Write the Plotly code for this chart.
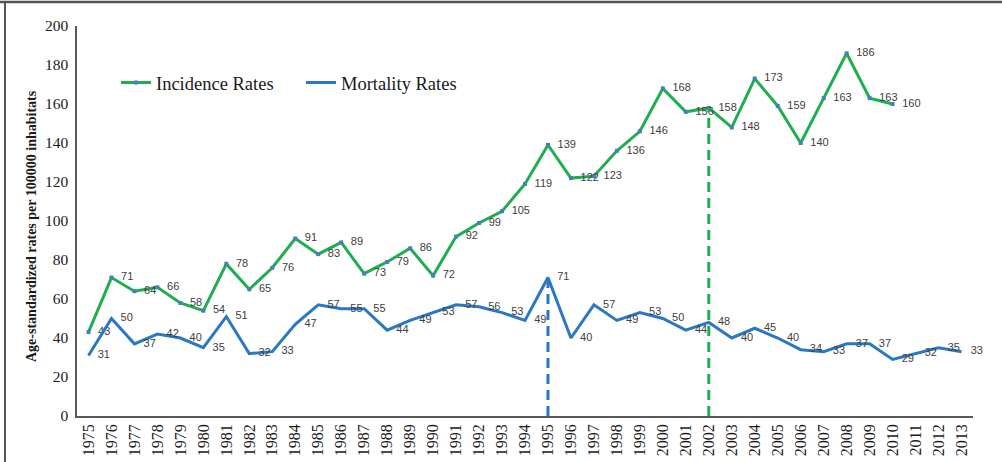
import plotly.graph_objects as go

years = [str(y) for y in range(1975, 2014)]
incidence_years = [str(y) for y in range(1975, 2011)]
incidence = [43, 71, 64, 66, 58, 54, 78, 65, 76, 91, 83, 89, 73, 79, 86, 72, 92, 99,
             105, 119, 139, 122, 123, 136, 146, 168, 156, 158, 148, 173, 159, 140, 163,
             186, 163, 160]
mortality = [31, 50, 37, 42, 40, 35, 51, 32, 33, 47, 57, 55, 55, 44, 49, 53, 57, 56,
             53, 49, 71, 40, 57, 49, 53, 50, 44, 48, 40, 45, 40, 34, 33, 37, 37, 29,
             32, 35, 33]
y_ticks = [0, 20, 40, 60, 80, 100, 120, 140, 160, 180, 200]
mortality_peak_year = "1995"
incidence_peak_year = "2002"

GREEN = "#1fae4e"
BLUE = "#2a78c4"
LABEL_FONT = dict(family="Liberation Sans", size=11, color="#404040")

fig = go.Figure()

fig.add_trace(go.Scatter(
    x=incidence_years, y=incidence, name="Incidence Rates",
    mode="lines+markers+text",
    line=dict(color=GREEN, width=3),
    marker=dict(color="#4a7ebb", size=4, symbol="square"),
    text=["  " + str(v) for v in incidence], textposition="middle right",
    textfont=LABEL_FONT, cliponaxis=False,
))
fig.add_trace(go.Scatter(
    x=years, y=mortality, name="Mortality Rates",
    mode="lines+text",
    line=dict(color=BLUE, width=3),
    text=["   " + str(v) for v in mortality], textposition="middle right",
    textfont=LABEL_FONT, cliponaxis=False,
))

# vertical dashed markers, derived from the data
mi = years.index(mortality_peak_year)
fig.add_trace(go.Scatter(
    x=[mortality_peak_year, mortality_peak_year], y=[0, mortality[mi]],
    mode="lines", line=dict(color=BLUE, width=3, dash="10px,6px"),
    showlegend=False, hoverinfo="skip",
))
ii = incidence_years.index(incidence_peak_year)
fig.add_trace(go.Scatter(
    x=[incidence_peak_year, incidence_peak_year], y=[0, incidence[ii]],
    mode="lines", line=dict(color=GREEN, width=3, dash="10px,6px"),
    showlegend=False, hoverinfo="skip",
))

W, H = 1002, 462
L, R, T, B = 77, 29, 26, 46
pw, ph = W - L - R, H - T - B

def px_x(p):
    return (p - L) / pw

def px_y(p):
    return (H - B - p) / ph

fig.update_layout(
    width=W, height=H,
    margin=dict(l=L, r=R, t=T, b=B, autoexpand=False),
    plot_bgcolor="white", paper_bgcolor="white",
    showlegend=True,
    legend=dict(
        orientation="h", x=px_x(116), y=px_y(83), xanchor="left", yanchor="middle",
        font=dict(family="Liberation Serif", size=18.5, color="#1a1a1a"),
        bgcolor="rgba(0,0,0,0)", entrywidth=140, itemwidth=30,
    ),
    xaxis=dict(
        type="category", categoryorder="array", categoryarray=years,
        range=[-0.5, len(years) - 0.5],
        showline=True, linecolor="#595959", linewidth=1.5,
        showgrid=False, ticks="", tickangle=-90,
        tickfont=dict(family="Liberation Serif", size=16, color="#1a1a1a"),
        fixedrange=True,
    ),
    yaxis=dict(
        range=[0, 200], tickvals=y_ticks,
        showline=True, linecolor="#595959", linewidth=1.5,
        showgrid=False, zeroline=False, ticks="",
        tickfont=dict(family="Liberation Serif", size=15.5, color="#1a1a1a"),
        ticklabelstandoff=4,
    ),
    annotations=[dict(
        text="<b>Age-standardized rates per 100000 inhabitats</b>",
        xref="paper", yref="paper", x=px_x(32), y=px_y(226),
        xanchor="center", yanchor="middle", textangle=-90, showarrow=False,
        font=dict(family="Liberation Serif", size=14, color="#1a1a1a"),
    )],
    shapes=[
        dict(type="line", xref="paper", yref="paper",
             x0=px_x(0), x1=px_x(W), y0=px_y(2), y1=px_y(2),
             line=dict(color="#555555", width=2.5)),
        dict(type="line", xref="paper", yref="paper",
             x0=px_x(5), x1=px_x(5), y0=px_y(2), y1=px_y(H),
             line=dict(color="#555555", width=2)),
    ],
)

fig.write_html("out.html",
               config={"displayModeBar": False},
               post_script="document.body.style.margin='0';document.body.style.overflow='hidden';")
